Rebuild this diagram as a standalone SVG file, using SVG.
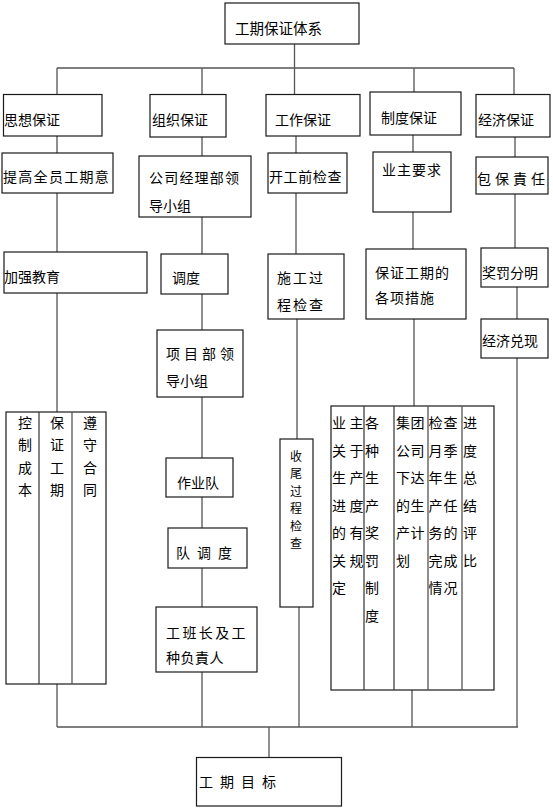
<svg xmlns="http://www.w3.org/2000/svg" width="553" height="809" viewBox="0 0 553 809">
<style>
.b{fill:#fff;stroke:#1a1a1a;stroke-width:1.2}
.c{fill:none;stroke:#555;stroke-width:1.3}
.d{fill:none;stroke:#333;stroke-width:1.2}
text{font-family:"Noto Sans CJK SC","Noto Sans CJK TC",sans-serif;font-size:14px;fill:#000;dominant-baseline:central}
.v{text-anchor:middle}
.s{font-size:12px}
</style>
<rect width="553" height="809" fill="#fff"/>
<g id="connectors">
<path class="c" d="M294.5 44V94.5M57 68H514M57 68V94.5M202 68V94.5M414 68V92M514 68V94.5"/>
<path class="c" d="M57 136V153M202 137V156M296 136V153M413 135V152M515 137V157"/>
<path class="c" d="M57 193V252M57 293V412M57 684V727"/>
<path class="c" d="M202 217V254M202 294V330M202 397V458M202 497V528M202 568V607M202 672V727"/>
<path class="c" d="M296 193V254M297 319V439M299 607V727"/>
<path class="c" d="M413 212V249M414 319V406M412 690V727"/>
<path class="c" d="M515 194V248M517 287V319M517 358V727"/>
<path class="c" d="M57 727H518M269 727V757.5"/>
</g>
<g id="n-title"><rect class="b" x="225" y="3" width="134" height="41"/><text x="235" y="27" style="font-size:14.5px">工期保证体系</text></g>
<g id="n-sixiang"><rect class="b" x="3.5" y="94.5" width="98.5" height="41.5"/><text x="4" y="119">思想保证</text></g>
<g id="n-zuzhi"><rect class="b" x="150" y="94.5" width="76" height="42.5"/><text x="152" y="119">组织保证</text></g>
<g id="n-gongzuo"><rect class="b" x="266" y="94.5" width="94" height="41.5"/><text x="275" y="119">工作保证</text></g>
<g id="n-zhidu"><rect class="b" x="370" y="92" width="91" height="43"/><text x="381" y="117">制度保证</text></g>
<g id="n-jingji"><rect class="b" x="476" y="94.5" width="74" height="42.5"/><text x="478" y="119">经济保证</text></g>
<g id="n-tigao"><rect class="b" x="2" y="153" width="111" height="40"/><text x="3" y="176" letter-spacing="1.3">提高全员工期意</text></g>
<g id="n-gongsi"><rect class="b" x="139" y="156" width="112" height="61"/><text x="149" y="177" letter-spacing="1.2">公司经理部领</text><text x="149" y="205">导小组</text></g>
<g id="n-jiaqiang"><rect class="b" x="4" y="252" width="143" height="41"/><text x="4" y="276">加强教育</text></g>
<g id="n-diaodu"><rect class="b" x="161" y="254" width="67" height="40"/><text x="172" y="277">调度</text></g>
<g id="n-kaigong"><rect class="b" x="268" y="153" width="79" height="40"/><text x="269" y="176" letter-spacing="0.6">开工前检查</text></g>
<g id="n-yezhu"><rect class="b" x="373" y="152" width="78" height="60"/><text x="382" y="169" letter-spacing="1">业主要求</text></g>
<g id="n-baobao"><rect class="b" x="476" y="157" width="72" height="37"/><text x="477" y="178" letter-spacing="4">包保責任</text></g>
<g id="n-shigong"><rect class="b" x="268" y="254" width="76" height="65"/><text x="277" y="277" letter-spacing="2">施工过</text><text x="277" y="304" letter-spacing="2">程检查</text></g>
<g id="n-baozheng"><rect class="b" x="366" y="249" width="100" height="70"/><text x="375" y="272" letter-spacing="1">保证工期的</text><text x="375" y="297" letter-spacing="1">各项措施</text></g>
<g id="n-jiangfa"><rect class="b" x="481" y="248" width="67" height="39"/><text x="482" y="272">奖罚分明</text></g>
<g id="n-duixian"><rect class="b" x="481" y="319" width="67" height="39"/><text x="482" y="340">经济兑现</text></g>
<g id="n-three">
<rect class="b" x="6" y="412" width="100" height="272"/>
<path class="d" d="M39 412V684"/><path class="c" d="M72 412V684"/>
<text class="v" x="25" y="422">控</text><text class="v" x="25" y="444">制</text><text class="v" x="25" y="467">成</text><text class="v" x="25" y="489">本</text>
<text class="v" x="57" y="422">保</text><text class="v" x="57" y="444">证</text><text class="v" x="57" y="467">工</text><text class="v" x="57" y="489">期</text>
<text class="v" x="90" y="422">遵</text><text class="v" x="90" y="444">守</text><text class="v" x="90" y="467">合</text><text class="v" x="90" y="489">同</text>
</g>
<g id="n-xiangmu"><rect class="b" x="157" y="330" width="86" height="67"/><text x="166" y="353" letter-spacing="4">项目部领</text><text x="166" y="380">导小组</text></g>
<g id="n-zuoye"><rect class="b" x="166" y="458" width="67" height="39"/><text x="177" y="482">作业队</text></g>
<g id="n-duidiaodu"><rect class="b" x="168" y="528" width="79" height="40"/><text x="176" y="552" letter-spacing="7">队调度</text></g>
<g id="n-gongban"><rect class="b" x="156" y="607" width="101" height="65"/><text x="166" y="632" letter-spacing="2.4">工班长及工</text><text x="166" y="657" letter-spacing="0.5">种负責人</text></g>
<g id="n-shouwei">
<rect class="b" x="280" y="439" width="33" height="168"/>
<text class="v s" x="296" y="455">收</text><text class="v s" x="296" y="472.5">尾</text><text class="v s" x="296" y="490">过</text><text class="v s" x="296" y="507.5">程</text><text class="v s" x="296" y="525">检</text><text class="v s" x="296" y="542.5">查</text>
</g>
<g id="n-big">
<rect class="b" x="331" y="406" width="163" height="284"/>
<path class="d" d="M364 406V690M394 406V690"/><path class="c" d="M428 406V690M462 406V690"/>
<text x="332" y="422">业</text><text x="332" y="449.5">关</text><text x="332" y="477">生</text><text x="332" y="504.5">进</text><text x="332" y="532">的</text><text x="332" y="559.5">关</text><text x="332" y="587">定</text>
<text x="349.5" y="422">主</text><text x="349.5" y="449.5">于</text><text x="349.5" y="477">产</text><text x="349.5" y="504.5">度</text><text x="349.5" y="532">有</text><text x="349.5" y="559.5">规</text>
<text x="365" y="422">各</text><text x="365" y="449.5">种</text><text x="365" y="477">生</text><text x="365" y="504.5">产</text><text x="365" y="532">奖</text><text x="365" y="559.5">罚</text><text x="365" y="587">制</text><text x="365" y="614.5">度</text>
<g letter-spacing="0.5">
<text x="396" y="422">集团</text><text x="396" y="449.5">公司</text><text x="396" y="477">下达</text><text x="396" y="504.5">的生</text><text x="396" y="532">产计</text><text x="396" y="559.5">划</text>
</g>
<g letter-spacing="1">
<text x="428.5" y="422">检查</text><text x="428.5" y="449.5">月季</text><text x="428.5" y="477">年生</text><text x="428.5" y="504.5">产任</text><text x="428.5" y="532">务的</text><text x="428.5" y="559.5">完成</text><text x="428.5" y="587">情况</text>
</g>
<text x="463" y="422">进</text><text x="463" y="449.5">度</text><text x="463" y="477">总</text><text x="463" y="504.5">结</text><text x="463" y="532">评</text><text x="463" y="559.5">比</text>
</g>
<g id="n-mubiao"><rect class="b" x="196.5" y="757.5" width="145" height="48.5"/><text x="199" y="781" letter-spacing="7">工期目标</text></g>
</svg>
